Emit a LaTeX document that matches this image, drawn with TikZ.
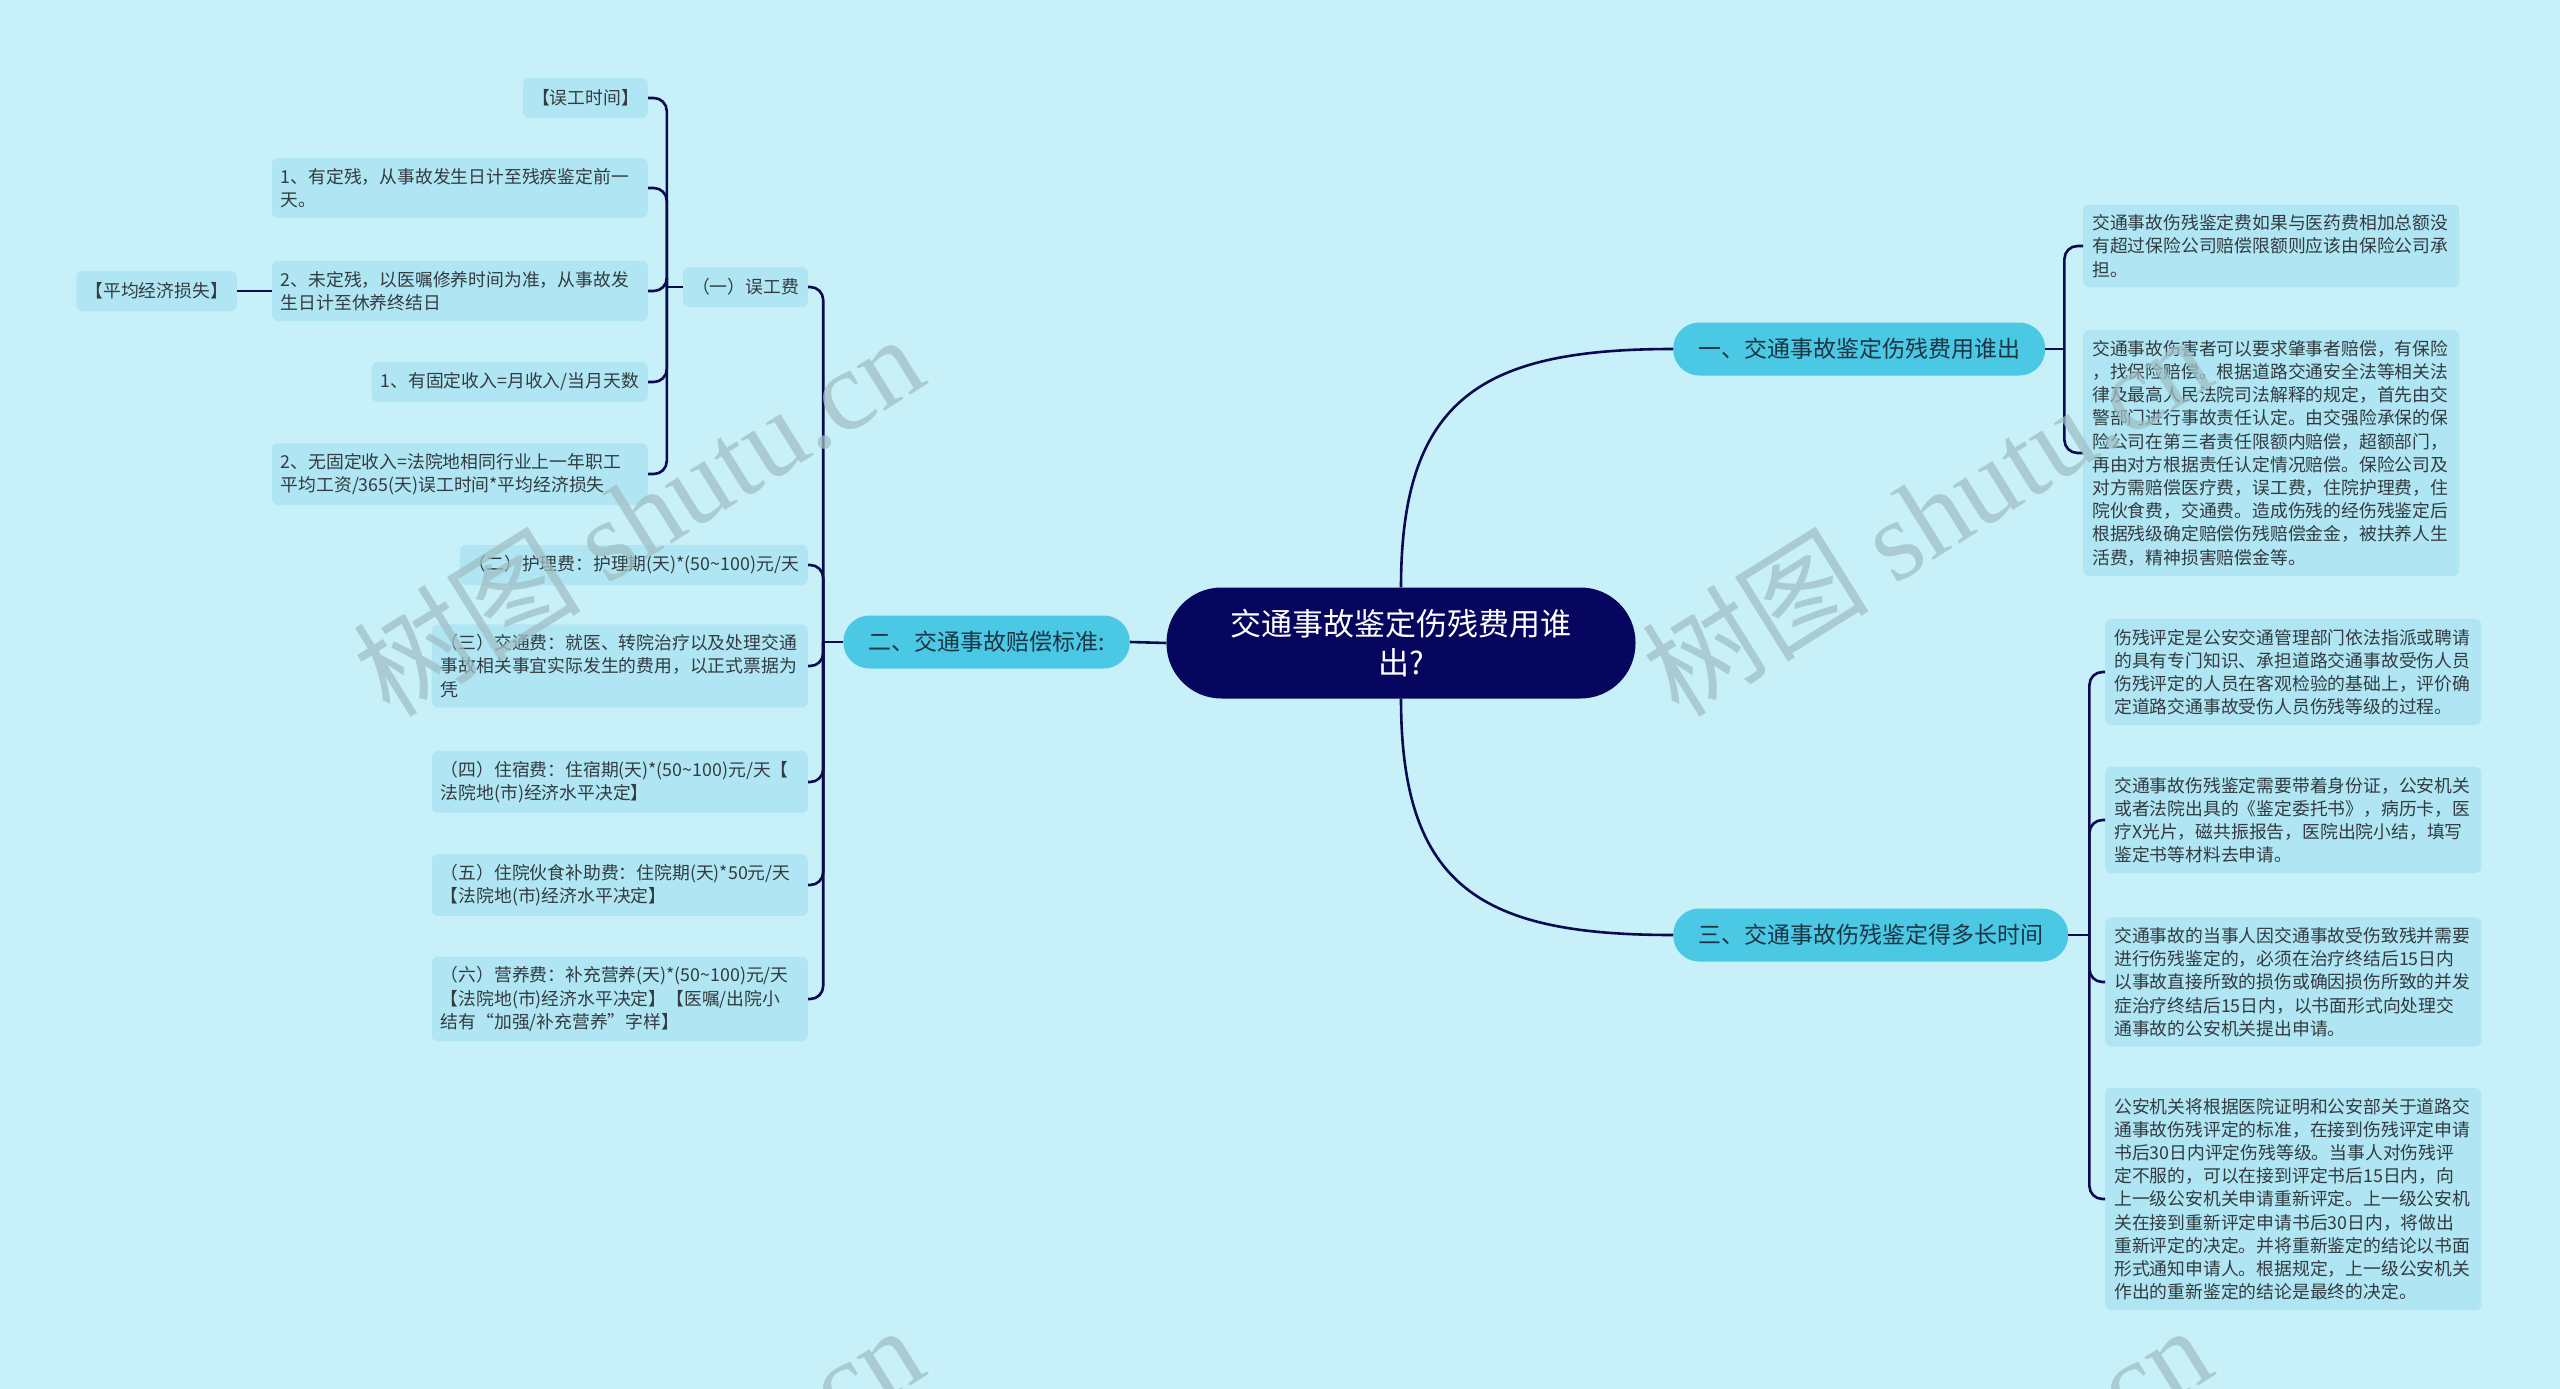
\documentclass[tikz,border=0pt]{standalone}
\usepackage{fontspec}
\setmainfont{Noto Sans CJK SC}
\newfontfamily\wmserif{Liberation Serif}
\usetikzlibrary{calc}
\definecolor{bgFill}{HTML}{C8F0F8}
\definecolor{rootFill}{HTML}{06065E}
\definecolor{mainFill}{HTML}{4BC8E3}
\definecolor{mainTxt}{HTML}{1B3545}
\definecolor{leafFill}{HTML}{B0E6F3}
\definecolor{leafTxt}{HTML}{333B40}
\definecolor{linkStroke}{HTML}{0A0A50}
\definecolor{wmTxt}{HTML}{9FBFC5}
\tikzset{
  leaf/.style={
    rectangle, rounded corners=6pt,
    fill=leafFill, text=leafTxt,
    inner xsep=9pt, inner ysep=10pt,
    minimum height=40pt, align=left,
    font=\fontsize{17.8}{23.2}\selectfont
  },
  wideleaf/.style={leaf, text width=358pt},
  branch/.style={
    rectangle, rounded corners=26pt,
    fill=mainFill, text=mainTxt,
    minimum height=53pt, inner xsep=25pt,
    font=\fontsize{23}{28}\selectfont
  },
  rootbox/.style={
    rectangle, rounded corners=55pt,
    fill=rootFill, text=white,
    minimum width=469pt, minimum height=111pt,
    text width=350pt, align=center,
    font=\fontsize{31}{39}\selectfont
  },
  link/.style={draw=linkStroke, line width=2.6pt},
  fork/.style={link, rounded corners=13pt},
  wmark/.style={text=wmTxt, opacity=0.75, rotate=32, inner sep=0pt,
    font=\fontsize{114}{114}\selectfont},
}

\begin{document}
\begin{tikzpicture}[x=1pt, y=-1pt]
  \fill[bgFill] (0,0) rectangle (2560,1389);
  \useasboundingbox (0,0) rectangle (2560,1389);

  \node[rootbox] (root) at (1401,643) {交通事故鉴定伤残费用谁\\出?};
  \node[branch, anchor=west] (n1) at (1673,349) {一、交通事故鉴定伤残费用谁出};
  \node[branch, anchor=east] (n2) at (1130,642) {二、交通事故赔偿标准:};
  \node[branch, anchor=west] (n3) at (1673,935) {三、交通事故伤残鉴定得多长时间};

  \node[wideleaf, anchor=west] (r1) at (2083,246) {交通事故伤残鉴定费如果与医药费相加总额没\\有超过保险公司赔偿限额则应该由保险公司承\\担。};
  \node[wideleaf, anchor=west] (r2) at (2083,453) {交通事故伤害者可以要求肇事者赔偿，有保险\\，找保险赔偿。根据道路交通安全法等相关法\\律及最高人民法院司法解释的规定，首先由交\\警部门进行事故责任认定。由交强险承保的保\\险公司在第三者责任限额内赔偿，超额部门，\\再由对方根据责任认定情况赔偿。保险公司及\\对方需赔偿医疗费，误工费，住院护理费，住\\院伙食费，交通费。造成伤残的经伤残鉴定后\\根据残级确定赔偿伤残赔偿金金，被扶养人生\\活费，精神损害赔偿金等。};
  \node[wideleaf, anchor=west] (r3) at (2105,672) {伤残评定是公安交通管理部门依法指派或聘请\\的具有专门知识、承担道路交通事故受伤人员\\伤残评定的人员在客观检验的基础上，评价确\\定道路交通事故受伤人员伤残等级的过程。};
  \node[wideleaf, anchor=west] (r4) at (2105,820) {交通事故伤残鉴定需要带着身份证，公安机关\\或者法院出具的《鉴定委托书》，病历卡，医\\疗X光片，磁共振报告，医院出院小结，填写\\鉴定书等材料去申请。};
  \node[wideleaf, anchor=west] (r5) at (2105,982) {交通事故的当事人因交通事故受伤致残并需要\\进行伤残鉴定的，必须在治疗终结后15日内\\以事故直接所致的损伤或确因损伤所致的并发\\症治疗终结后15日内，以书面形式向处理交\\通事故的公安机关提出申请。};
  \node[wideleaf, anchor=west] (r6) at (2105,1199) {公安机关将根据医院证明和公安部关于道路交\\通事故伤残评定的标准，在接到伤残评定申请\\书后30日内评定伤残等级。当事人对伤残评\\定不服的，可以在接到评定书后15日内，向\\上一级公安机关申请重新评定。上一级公安机\\关在接到重新评定申请书后30日内，将做出\\重新评定的决定。并将重新鉴定的结论以书面\\形式通知申请人。根据规定，上一级公安机关\\作出的重新鉴定的结论是最终的决定。};

  \node[leaf, anchor=east] (c1) at (808,287) {（一）误工费};
  \node[leaf, anchor=east] (c2) at (808,565) {（二）护理费：护理期(天)*(50\textasciitilde 100)元/天};
  \node[wideleaf, anchor=east] (c3) at (808,666) {（三）交通费：就医、转院治疗以及处理交通\\事故相关事宜实际发生的费用，以正式票据为\\凭};
  \node[wideleaf, anchor=east] (c4) at (808,782) {（四）住宿费：住宿期(天)*(50\textasciitilde 100)元/天【\\法院地(市)经济水平决定】};
  \node[wideleaf, anchor=east] (c5) at (808,885) {（五）住院伙食补助费：住院期(天)*50元/天\\【法院地(市)经济水平决定】};
  \node[wideleaf, anchor=east] (c6) at (808,999) {（六）营养费：补充营养(天)*(50\textasciitilde 100)元/天\\【法院地(市)经济水平决定】【医嘱/出院小\\结有“加强/补充营养”字样】};

  \node[leaf, anchor=east] (d1) at (648,98) {【误工时间】};
  \node[wideleaf, anchor=east] (d2) at (648,188) {1、有定残，从事故发生日计至残疾鉴定前一\\天。};
  \node[wideleaf, anchor=east] (d3) at (648,291) {2、未定残，以医嘱修养时间为准，从事故发\\生日计至休养终结日};
  \node[leaf, anchor=east] (d4) at (648,382) {1、有固定收入=月收入/当月天数};
  \node[wideleaf, anchor=east] (d5) at (648,474) {2、无固定收入=法院地相同行业上一年职工\\平均工资/365(天)误工时间*平均经济损失};
  \node[leaf, anchor=east] (e1) at (237,291) {【平均经济损失】};

  \draw[link] (root.north) .. controls ($(root.north)+(0,-190)$) and ($(n1.west)+(-190,0)$) .. (n1.west);
  \draw[link] (root.west) -- (n2.east);
  \draw[link] (root.south) .. controls ($(root.south)+(0,190)$) and ($(n3.west)+(-190,0)$) .. (n3.west);

  \draw[link] (n1.east) -- ++(19,0) coordinate (j1);
  \foreach \t in {r1,r2}
    \draw[fork] (j1) |- (\t.west);
  \draw[link] (n3.east) -- ++(21,0) coordinate (j3);
  \foreach \t in {r3,r4,r5,r6}
    \draw[fork] (j3) |- (\t.west);
  \draw[link] (n2.west) -- ++(-20,0) coordinate (j2);
  \foreach \t in {c1,c2,c3,c4,c5,c6}
    \draw[fork] (j2) |- (\t.east);
  \draw[link] (c1.west) -- ++(-16,0) coordinate (j4);
  \foreach \t in {d1,d2,d3,d4,d5}
    \draw[fork] (j4) |- (\t.east);
  \draw[link] (e1.east) -- (d3.west);

  \begin{scope}
    \clip (0,0) rectangle (2560,1389);
    \node[wmark] (wm1) at (638,514) {树图 {\wmserif shutu.cn}};
    \node[wmark] (wm2) at (1926,514) {树图 {\wmserif shutu.cn}};
    \node[wmark] (wm3) at (638,1505) {树图 {\wmserif shutu.cn}};
    \node[wmark] (wm4) at (1926,1505) {树图 {\wmserif shutu.cn}};
  \end{scope}
\end{tikzpicture}
\end{document}
